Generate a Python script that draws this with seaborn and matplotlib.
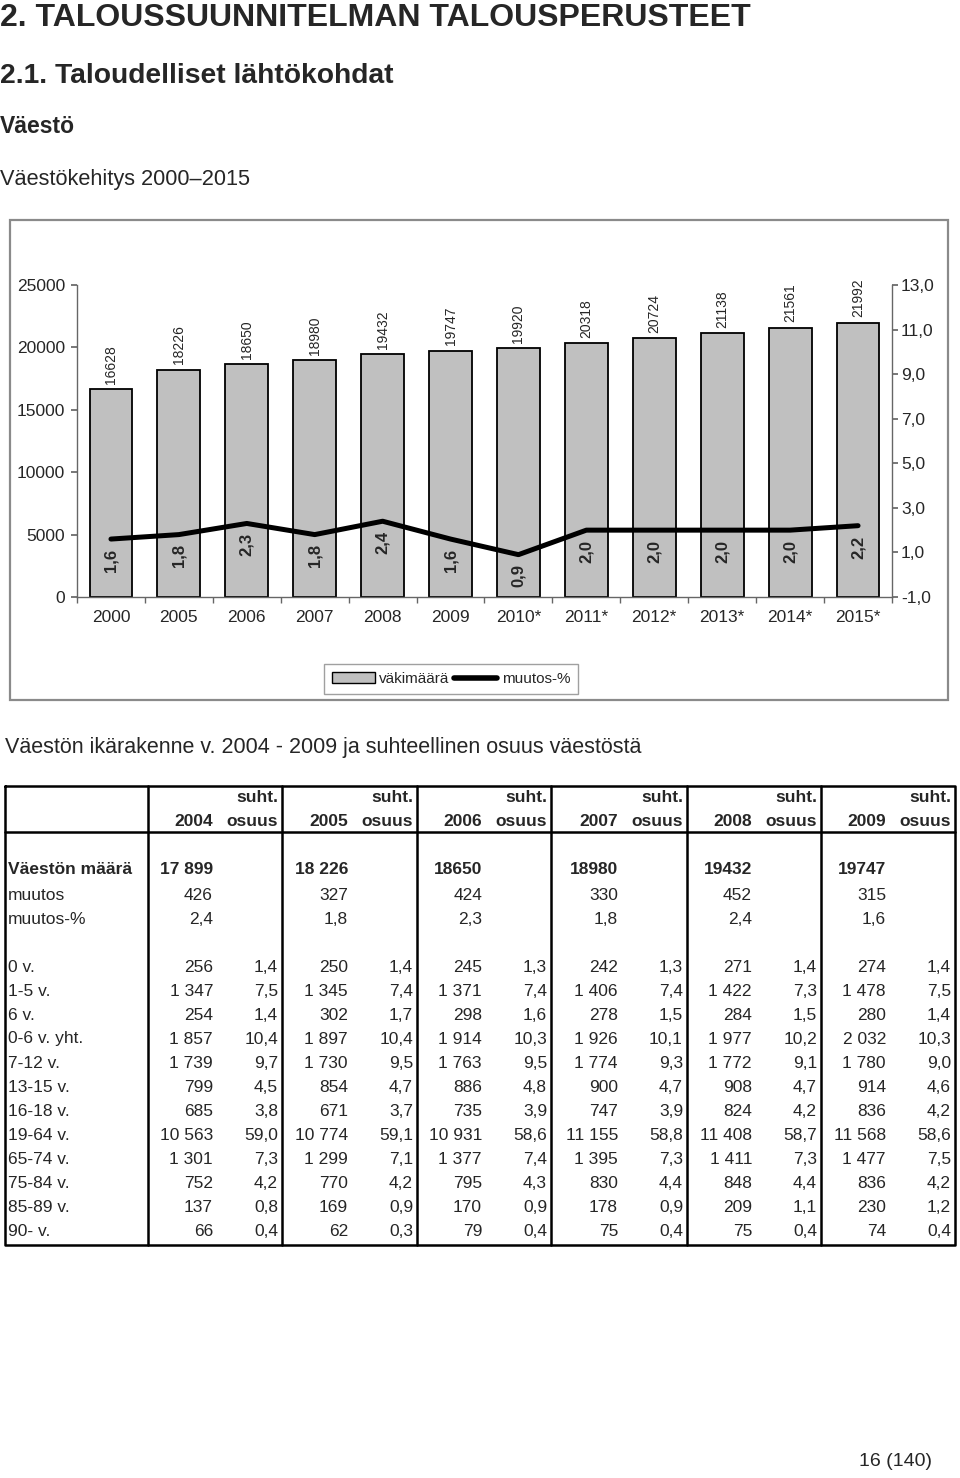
import numpy as np
import pandas as pd
import matplotlib
matplotlib.use("Agg")
import matplotlib.pyplot as plt
import seaborn as sns
from matplotlib.patches import Rectangle, Patch
from matplotlib.lines import Line2D
from matplotlib.ticker import FuncFormatter

# ===========================
# 1. DATA
# ===========================
vuodet = ["2000", "2005", "2006", "2007", "2008", "2009",
          "2010*", "2011*", "2012*", "2013*", "2014*", "2015*"]
vakimaara = [16628, 18226, 18650, 18980, 19432, 19747,
             19920, 20318, 20724, 21138, 21561, 21992]
muutos_pros = [1.6, 1.8, 2.3, 1.8, 2.4, 1.6, 0.9, 2.0, 2.0, 2.0, 2.0, 2.2]

taulu_vuodet = ["2004", "2005", "2006", "2007", "2008", "2009"]
vaeston_maara = ["17 899", "18 226", "18650", "18980", "19432", "19747"]
muutos = [426, 327, 424, 330, 452, 315]
muutos_pct = [2.4, 1.8, 2.3, 1.8, 2.4, 1.6]

ikaryhmat = ["0 v.", "1-5 v.", "6 v.", "0-6 v. yht.", "7-12 v.", "13-15 v.",
             "16-18 v.", "19-64 v.", "65-74 v.", "75-84 v.", "85-89 v.", "90- v."]
# rivit = ikäryhmät, sarakkeet = vuodet 2004-2009
ika_maara = [
    [256, 250, 245, 242, 271, 274],
    [1347, 1345, 1371, 1406, 1422, 1478],
    [254, 302, 298, 278, 284, 280],
    [1857, 1897, 1914, 1926, 1977, 2032],
    [1739, 1730, 1763, 1774, 1772, 1780],
    [799, 854, 886, 900, 908, 914],
    [685, 671, 735, 747, 824, 836],
    [10563, 10774, 10931, 11155, 11408, 11568],
    [1301, 1299, 1377, 1395, 1411, 1477],
    [752, 770, 795, 830, 848, 836],
    [137, 169, 170, 178, 209, 230],
    [66, 62, 79, 75, 75, 74],
]
ika_osuus = [
    [1.4, 1.4, 1.3, 1.3, 1.4, 1.4],
    [7.5, 7.4, 7.4, 7.4, 7.3, 7.5],
    [1.4, 1.7, 1.6, 1.5, 1.5, 1.4],
    [10.4, 10.4, 10.3, 10.1, 10.2, 10.3],
    [9.7, 9.5, 9.5, 9.3, 9.1, 9.0],
    [4.5, 4.7, 4.8, 4.7, 4.7, 4.6],
    [3.8, 3.7, 3.9, 3.9, 4.2, 4.2],
    [59.0, 59.1, 58.6, 58.8, 58.7, 58.6],
    [7.3, 7.1, 7.4, 7.3, 7.3, 7.5],
    [4.2, 4.2, 4.3, 4.4, 4.4, 4.2],
    [0.8, 0.9, 0.9, 0.9, 1.1, 1.2],
    [0.4, 0.3, 0.4, 0.4, 0.4, 0.4],
]


def pilkku(x):
    return f"{x:.1f}".replace(".", ",")


def tuhannet(n):
    return f"{n:,}".replace(",", " ")


# ===========================
# 2. FIGURE
# ===========================
W, H = 960, 1478
sns.set_theme(style="white")
plt.rcParams["font.family"] = ["Liberation Sans", "DejaVu Sans"]
fig = plt.figure(figsize=(W / 100, H / 100), dpi=100)
fig.patch.set_facecolor("white")


def fx(px):
    return px / W


def fy(py):
    return 1 - py / H


AXIS_COL = "#666666"

# chart frame
fig.patches.append(Rectangle((fx(10), fy(700)), fx(938), (700 - 220) / H,
                             transform=fig.transFigure, fill=False,
                             edgecolor="#8a8a8a", lw=1.6))

# ===========================
# 3. PYLVÄÄT + VIIVA
# ===========================
x0, x1, y0, y1 = 77, 892, 285, 597
ax = fig.add_axes([fx(x0), fy(y1), (x1 - x0) / W, (y1 - y0) / H])
df = pd.DataFrame({"vuosi": vuodet, "vakimaara": vakimaara})
sns.barplot(data=df, x="vuosi", y="vakimaara", color="#c0c0c0", saturation=1,
            edgecolor="black", linewidth=1.3, width=0.63, ax=ax)
ax.set_ylim(0, 25000)
ax.set_xlim(-0.5, len(vuodet) - 0.5)
ax.set_yticks(range(0, 25001, 5000))
ax.set_xlabel("")
ax.set_ylabel("")
ax.bar_label(ax.containers[0], labels=[str(v) for v in vakimaara],
             rotation=90, padding=4, fontsize=10)
ax.set_xticks(np.arange(-0.5, len(vuodet), 1), minor=True)
ax.tick_params(axis="x", which="major", length=0, labelsize=12.5, pad=9)
ax.tick_params(axis="x", which="minor", length=4.5, direction="out",
               color=AXIS_COL, width=1, bottom=True)
ax.tick_params(axis="y", length=4.5, direction="out", color=AXIS_COL,
               labelsize=12.5, pad=4, left=True)
for s in ["top", "right"]:
    ax.spines[s].set_visible(False)
for s in ["left", "bottom"]:
    ax.spines[s].set_color(AXIS_COL)
    ax.spines[s].set_linewidth(1)
ax.set_facecolor("none")

ax2 = ax.twinx()
sns.lineplot(x=np.arange(len(vuodet)), y=muutos_pros, ax=ax2,
             color="black", lw=3.6)
ax2.set_ylim(-1, 13)
ax2.set_yticks(np.arange(-1, 14, 2))
ax2.yaxis.set_major_formatter(FuncFormatter(lambda v, p: pilkku(v)))
ax2.tick_params(axis="y", length=4.5, direction="out", color=AXIS_COL,
                labelsize=12.5, pad=2, right=True)
for s in ["top", "left", "bottom"]:
    ax2.spines[s].set_visible(False)
ax2.spines["right"].set_color(AXIS_COL)
ax2.spines["right"].set_linewidth(1)
ax2.set_ylabel("")
ax2.grid(False)
for i, v in enumerate(muutos_pros):
    ax2.annotate(pilkku(v), (i, v), xytext=(0, -7), textcoords="offset points",
                 rotation=90, ha="center", va="top", fontsize=12,
                 fontweight="bold")

leg = fig.legend(handles=[Patch(facecolor="#c0c0c0", edgecolor="black",
                                lw=1, label="väkimäärä"),
                          Line2D([], [], color="black", lw=4, label="muutos-%")],
                 loc="center", bbox_to_anchor=(fx(451), fy(679)), ncol=2,
                 frameon=True, fancybox=False, edgecolor="#888888",
                 fontsize=11, handlelength=2.8, handletextpad=0.3,
                 columnspacing=0.3, borderpad=0.5)
leg.get_frame().set_linewidth(1)

# ===========================
# 4. OTSIKOT + TAULUKKO
# ===========================
tx = fig.add_axes([0, 0, 1, 1])
tx.set_xlim(0, W)
tx.set_ylim(H, 0)
tx.axis("off")

tx.text(0, 26, "2. TALOUSSUUNNITELMAN TALOUSPERUSTEET", fontsize=23,
        fontweight="bold", va="baseline", ha="left")
tx.text(0, 83, "2.1. Taloudelliset lähtökohdat", fontsize=20.3,
        fontweight="bold", va="baseline", ha="left")
tx.text(0, 133, "Väestö", fontsize=16.5, fontweight="bold", va="baseline")
tx.text(0, 185, "Väestökehitys 2000–2015", fontsize=15.7, va="baseline")
tx.text(5, 753, "Väestön ikärakenne v. 2004 - 2009 ja suhteellinen osuus väestöstä",
        fontsize=15.5, va="baseline")
tx.text(932, 1466, "16 (140)", fontsize=14, ha="right", va="baseline")

# taulukon viivat
T_TOP, T_HEAD, T_BOT, T_LEFT = 786, 832, 1245, 5
ryhma_oikea = [282, 417, 551, 687, 821, 955]
LW = 1.8
tx.plot([T_LEFT, 955, 955, T_LEFT, T_LEFT], [T_TOP, T_TOP, T_BOT, T_BOT, T_TOP],
        color="black", lw=LW)
tx.plot([T_LEFT, 955], [T_HEAD, T_HEAD], color="black", lw=LW)
for gx in [148] + ryhma_oikea[:-1]:
    tx.plot([gx, gx], [T_TOP, T_BOT], color="black", lw=LW)

FS = 12.5
for j, yr in enumerate(taulu_vuodet):
    nr = ryhma_oikea[j] - 69
    orr = ryhma_oikea[j] - 4
    tx.text(orr, 797, "suht.", fontsize=FS, fontweight="bold", ha="right", va="center")
    tx.text(orr, 822, "osuus", fontsize=FS, fontweight="bold", ha="right", va="center")
    tx.text(nr, 822, yr, fontsize=FS, fontweight="bold", ha="right", va="center")
    tx.text(nr, 870, vaeston_maara[j], fontsize=FS, fontweight="bold", ha="right", va="center")
    tx.text(nr, 895, str(muutos[j]), fontsize=FS, ha="right", va="center")
    tx.text(nr, 919, pilkku(muutos_pct[j]), fontsize=FS, ha="right", va="center")
    for r in range(len(ikaryhmat)):
        yy = 967 + 24 * r
        tx.text(nr, yy, tuhannet(ika_maara[r][j]), fontsize=FS, ha="right", va="center")
        tx.text(orr, yy, pilkku(ika_osuus[r][j]), fontsize=FS, ha="right", va="center")

tx.text(8, 870, "Väestön määrä", fontsize=FS, fontweight="bold", va="center")
tx.text(8, 895, "muutos", fontsize=FS, va="center")
tx.text(8, 919, "muutos-%", fontsize=FS, va="center")
for r, lab in enumerate(ikaryhmat):
    tx.text(8, 967 + 24 * r, lab, fontsize=FS, va="center")

fig.savefig("out.png", dpi=100, facecolor="white")
plt.close(fig)
